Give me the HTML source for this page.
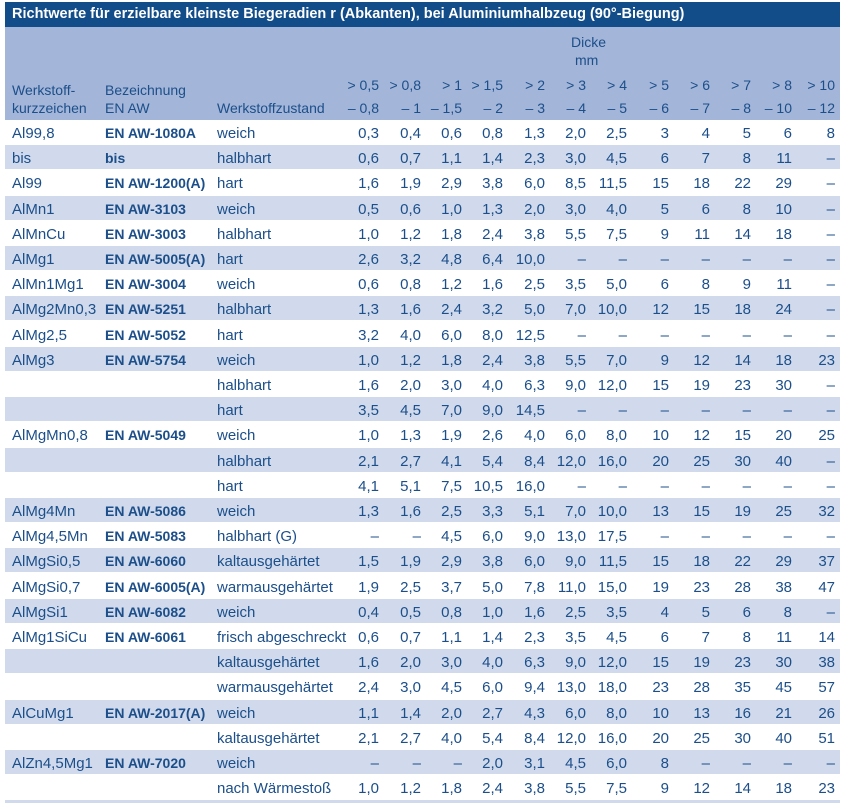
<!DOCTYPE html>
<html><head><meta charset="utf-8"><style>
body{margin:0;background:#fff;width:858px;height:809px;position:relative;overflow:hidden;font-family:"Liberation Sans",sans-serif;color:#1c4f8a;font-size:15px}
.t{position:absolute;left:5px;top:2px;width:835px;height:25px;background:#124d89;color:#fff;font-weight:bold;font-size:14.5px;line-height:25px;padding-left:7px;box-sizing:border-box;white-space:nowrap}
.h{position:absolute;left:5px;top:27px;width:835px;height:93px;background:#a3b5d8}
.a{position:absolute;white-space:nowrap;line-height:18px;font-size:14px}
.r{position:absolute;left:5px;width:835px;height:25px;line-height:27px}
.r.l{background:#d0daec;height:24px}
.r span{position:absolute;white-space:nowrap}
.c1{left:7px}.c2{left:100px;font-weight:bold;font-size:14px}.c3{left:212px}
.n{width:44px;text-align:right}
.r .n1{right:461px}.r .n2{right:419px}.r .n3{right:378px}.r .n4{right:337px}.r .n5{right:295px}.r .n6{right:254px}.r .n7{right:213px}.r .n8{right:171px}.r .n9{right:130px}.r .n10{right:89px}.r .n11{right:48px}.r .n12{right:5px}
</style></head><body>
<div class="t">Richtwerte für erzielbare kleinste Biegeradien r (Abkanten), bei Aluminiumhalbzeug (90°-Biegung)</div>
<div class="h"></div>
<div class="a" style="left:571px;top:33px">Dicke</div>
<div class="a" style="left:575px;top:51px">mm</div>
<div class="a" style="left:12px;top:81px">Werkstoff-</div>
<div class="a" style="left:12px;top:99px">kurzzeichen</div>
<div class="a" style="left:105px;top:81px">Bezeichnung</div>
<div class="a" style="left:105px;top:99px">EN AW</div>
<div class="a" style="left:217px;top:99px">Werkstoffzustand</div>
<div class="a" style="left:335px;top:76px;width:44px;text-align:right">&gt; 0,5</div><div class="a" style="left:335px;top:99px;width:44px;text-align:right">– 0,8</div>
<div class="a" style="left:377px;top:76px;width:44px;text-align:right">&gt; 0,8</div><div class="a" style="left:377px;top:99px;width:44px;text-align:right">– 1</div>
<div class="a" style="left:418px;top:76px;width:44px;text-align:right">&gt; 1</div><div class="a" style="left:418px;top:99px;width:44px;text-align:right">– 1,5</div>
<div class="a" style="left:459px;top:76px;width:44px;text-align:right">&gt; 1,5</div><div class="a" style="left:459px;top:99px;width:44px;text-align:right">– 2</div>
<div class="a" style="left:501px;top:76px;width:44px;text-align:right">&gt; 2</div><div class="a" style="left:501px;top:99px;width:44px;text-align:right">– 3</div>
<div class="a" style="left:542px;top:76px;width:44px;text-align:right">&gt; 3</div><div class="a" style="left:542px;top:99px;width:44px;text-align:right">– 4</div>
<div class="a" style="left:583px;top:76px;width:44px;text-align:right">&gt; 4</div><div class="a" style="left:583px;top:99px;width:44px;text-align:right">– 5</div>
<div class="a" style="left:625px;top:76px;width:44px;text-align:right">&gt; 5</div><div class="a" style="left:625px;top:99px;width:44px;text-align:right">– 6</div>
<div class="a" style="left:666px;top:76px;width:44px;text-align:right">&gt; 6</div><div class="a" style="left:666px;top:99px;width:44px;text-align:right">– 7</div>
<div class="a" style="left:707px;top:76px;width:44px;text-align:right">&gt; 7</div><div class="a" style="left:707px;top:99px;width:44px;text-align:right">– 8</div>
<div class="a" style="left:748px;top:76px;width:44px;text-align:right">&gt; 8</div><div class="a" style="left:748px;top:99px;width:44px;text-align:right">– 10</div>
<div class="a" style="left:791px;top:76px;width:44px;text-align:right">&gt; 10</div><div class="a" style="left:791px;top:99px;width:44px;text-align:right">– 12</div>

<div class="r" style="top:120px"><span class="c1">Al99,8</span><span class="c2">EN AW-1080A</span><span class="c3">weich</span><span class="n n1">0,3</span><span class="n n2">0,4</span><span class="n n3">0,6</span><span class="n n4">0,8</span><span class="n n5">1,3</span><span class="n n6">2,0</span><span class="n n7">2,5</span><span class="n n8">3</span><span class="n n9">4</span><span class="n n10">5</span><span class="n n11">6</span><span class="n n12">8</span></div>
<div class="r l" style="top:145px"><span class="c1">bis</span><span class="c2">bis</span><span class="c3">halbhart</span><span class="n n1">0,6</span><span class="n n2">0,7</span><span class="n n3">1,1</span><span class="n n4">1,4</span><span class="n n5">2,3</span><span class="n n6">3,0</span><span class="n n7">4,5</span><span class="n n8">6</span><span class="n n9">7</span><span class="n n10">8</span><span class="n n11">11</span><span class="n n12">–</span></div>
<div class="r" style="top:170px"><span class="c1">Al99</span><span class="c2">EN AW-1200(A)</span><span class="c3">hart</span><span class="n n1">1,6</span><span class="n n2">1,9</span><span class="n n3">2,9</span><span class="n n4">3,8</span><span class="n n5">6,0</span><span class="n n6">8,5</span><span class="n n7">11,5</span><span class="n n8">15</span><span class="n n9">18</span><span class="n n10">22</span><span class="n n11">29</span><span class="n n12">–</span></div>
<div class="r l" style="top:196px"><span class="c1">AlMn1</span><span class="c2">EN AW-3103</span><span class="c3">weich</span><span class="n n1">0,5</span><span class="n n2">0,6</span><span class="n n3">1,0</span><span class="n n4">1,3</span><span class="n n5">2,0</span><span class="n n6">3,0</span><span class="n n7">4,0</span><span class="n n8">5</span><span class="n n9">6</span><span class="n n10">8</span><span class="n n11">10</span><span class="n n12">–</span></div>
<div class="r" style="top:221px"><span class="c1">AlMnCu</span><span class="c2">EN AW-3003</span><span class="c3">halbhart</span><span class="n n1">1,0</span><span class="n n2">1,2</span><span class="n n3">1,8</span><span class="n n4">2,4</span><span class="n n5">3,8</span><span class="n n6">5,5</span><span class="n n7">7,5</span><span class="n n8">9</span><span class="n n9">11</span><span class="n n10">14</span><span class="n n11">18</span><span class="n n12">–</span></div>
<div class="r l" style="top:246px"><span class="c1">AlMg1</span><span class="c2">EN AW-5005(A)</span><span class="c3">hart</span><span class="n n1">2,6</span><span class="n n2">3,2</span><span class="n n3">4,8</span><span class="n n4">6,4</span><span class="n n5">10,0</span><span class="n n6">–</span><span class="n n7">–</span><span class="n n8">–</span><span class="n n9">–</span><span class="n n10">–</span><span class="n n11">–</span><span class="n n12">–</span></div>
<div class="r" style="top:271px"><span class="c1">AlMn1Mg1</span><span class="c2">EN AW-3004</span><span class="c3">weich</span><span class="n n1">0,6</span><span class="n n2">0,8</span><span class="n n3">1,2</span><span class="n n4">1,6</span><span class="n n5">2,5</span><span class="n n6">3,5</span><span class="n n7">5,0</span><span class="n n8">6</span><span class="n n9">8</span><span class="n n10">9</span><span class="n n11">11</span><span class="n n12">–</span></div>
<div class="r l" style="top:296px"><span class="c1">AlMg2Mn0,3</span><span class="c2">EN AW-5251</span><span class="c3">halbhart</span><span class="n n1">1,3</span><span class="n n2">1,6</span><span class="n n3">2,4</span><span class="n n4">3,2</span><span class="n n5">5,0</span><span class="n n6">7,0</span><span class="n n7">10,0</span><span class="n n8">12</span><span class="n n9">15</span><span class="n n10">18</span><span class="n n11">24</span><span class="n n12">–</span></div>
<div class="r" style="top:322px"><span class="c1">AlMg2,5</span><span class="c2">EN AW-5052</span><span class="c3">hart</span><span class="n n1">3,2</span><span class="n n2">4,0</span><span class="n n3">6,0</span><span class="n n4">8,0</span><span class="n n5">12,5</span><span class="n n6">–</span><span class="n n7">–</span><span class="n n8">–</span><span class="n n9">–</span><span class="n n10">–</span><span class="n n11">–</span><span class="n n12">–</span></div>
<div class="r l" style="top:347px"><span class="c1">AlMg3</span><span class="c2">EN AW-5754</span><span class="c3">weich</span><span class="n n1">1,0</span><span class="n n2">1,2</span><span class="n n3">1,8</span><span class="n n4">2,4</span><span class="n n5">3,8</span><span class="n n6">5,5</span><span class="n n7">7,0</span><span class="n n8">9</span><span class="n n9">12</span><span class="n n10">14</span><span class="n n11">18</span><span class="n n12">23</span></div>
<div class="r" style="top:372px"><span class="c3">halbhart</span><span class="n n1">1,6</span><span class="n n2">2,0</span><span class="n n3">3,0</span><span class="n n4">4,0</span><span class="n n5">6,3</span><span class="n n6">9,0</span><span class="n n7">12,0</span><span class="n n8">15</span><span class="n n9">19</span><span class="n n10">23</span><span class="n n11">30</span><span class="n n12">–</span></div>
<div class="r l" style="top:397px"><span class="c3">hart</span><span class="n n1">3,5</span><span class="n n2">4,5</span><span class="n n3">7,0</span><span class="n n4">9,0</span><span class="n n5">14,5</span><span class="n n6">–</span><span class="n n7">–</span><span class="n n8">–</span><span class="n n9">–</span><span class="n n10">–</span><span class="n n11">–</span><span class="n n12">–</span></div>
<div class="r" style="top:422px"><span class="c1">AlMgMn0,8</span><span class="c2">EN AW-5049</span><span class="c3">weich</span><span class="n n1">1,0</span><span class="n n2">1,3</span><span class="n n3">1,9</span><span class="n n4">2,6</span><span class="n n5">4,0</span><span class="n n6">6,0</span><span class="n n7">8,0</span><span class="n n8">10</span><span class="n n9">12</span><span class="n n10">15</span><span class="n n11">20</span><span class="n n12">25</span></div>
<div class="r l" style="top:448px"><span class="c3">halbhart</span><span class="n n1">2,1</span><span class="n n2">2,7</span><span class="n n3">4,1</span><span class="n n4">5,4</span><span class="n n5">8,4</span><span class="n n6">12,0</span><span class="n n7">16,0</span><span class="n n8">20</span><span class="n n9">25</span><span class="n n10">30</span><span class="n n11">40</span><span class="n n12">–</span></div>
<div class="r" style="top:473px"><span class="c3">hart</span><span class="n n1">4,1</span><span class="n n2">5,1</span><span class="n n3">7,5</span><span class="n n4">10,5</span><span class="n n5">16,0</span><span class="n n6">–</span><span class="n n7">–</span><span class="n n8">–</span><span class="n n9">–</span><span class="n n10">–</span><span class="n n11">–</span><span class="n n12">–</span></div>
<div class="r l" style="top:498px"><span class="c1">AlMg4Mn</span><span class="c2">EN AW-5086</span><span class="c3">weich</span><span class="n n1">1,3</span><span class="n n2">1,6</span><span class="n n3">2,5</span><span class="n n4">3,3</span><span class="n n5">5,1</span><span class="n n6">7,0</span><span class="n n7">10,0</span><span class="n n8">13</span><span class="n n9">15</span><span class="n n10">19</span><span class="n n11">25</span><span class="n n12">32</span></div>
<div class="r" style="top:523px"><span class="c1">AlMg4,5Mn</span><span class="c2">EN AW-5083</span><span class="c3">halbhart (G)</span><span class="n n1">–</span><span class="n n2">–</span><span class="n n3">4,5</span><span class="n n4">6,0</span><span class="n n5">9,0</span><span class="n n6">13,0</span><span class="n n7">17,5</span><span class="n n8">–</span><span class="n n9">–</span><span class="n n10">–</span><span class="n n11">–</span><span class="n n12">–</span></div>
<div class="r l" style="top:548px"><span class="c1">AlMgSi0,5</span><span class="c2">EN AW-6060</span><span class="c3">kaltausgehärtet</span><span class="n n1">1,5</span><span class="n n2">1,9</span><span class="n n3">2,9</span><span class="n n4">3,8</span><span class="n n5">6,0</span><span class="n n6">9,0</span><span class="n n7">11,5</span><span class="n n8">15</span><span class="n n9">18</span><span class="n n10">22</span><span class="n n11">29</span><span class="n n12">37</span></div>
<div class="r" style="top:574px"><span class="c1">AlMgSi0,7</span><span class="c2">EN AW-6005(A)</span><span class="c3">warmausgehärtet</span><span class="n n1">1,9</span><span class="n n2">2,5</span><span class="n n3">3,7</span><span class="n n4">5,0</span><span class="n n5">7,8</span><span class="n n6">11,0</span><span class="n n7">15,0</span><span class="n n8">19</span><span class="n n9">23</span><span class="n n10">28</span><span class="n n11">38</span><span class="n n12">47</span></div>
<div class="r l" style="top:599px"><span class="c1">AlMgSi1</span><span class="c2">EN AW-6082</span><span class="c3">weich</span><span class="n n1">0,4</span><span class="n n2">0,5</span><span class="n n3">0,8</span><span class="n n4">1,0</span><span class="n n5">1,6</span><span class="n n6">2,5</span><span class="n n7">3,5</span><span class="n n8">4</span><span class="n n9">5</span><span class="n n10">6</span><span class="n n11">8</span><span class="n n12">–</span></div>
<div class="r" style="top:624px"><span class="c1">AlMg1SiCu</span><span class="c2">EN AW-6061</span><span class="c3">frisch abgeschreckt</span><span class="n n1">0,6</span><span class="n n2">0,7</span><span class="n n3">1,1</span><span class="n n4">1,4</span><span class="n n5">2,3</span><span class="n n6">3,5</span><span class="n n7">4,5</span><span class="n n8">6</span><span class="n n9">7</span><span class="n n10">8</span><span class="n n11">11</span><span class="n n12">14</span></div>
<div class="r l" style="top:649px"><span class="c3">kaltausgehärtet</span><span class="n n1">1,6</span><span class="n n2">2,0</span><span class="n n3">3,0</span><span class="n n4">4,0</span><span class="n n5">6,3</span><span class="n n6">9,0</span><span class="n n7">12,0</span><span class="n n8">15</span><span class="n n9">19</span><span class="n n10">23</span><span class="n n11">30</span><span class="n n12">38</span></div>
<div class="r" style="top:674px"><span class="c3">warmausgehärtet</span><span class="n n1">2,4</span><span class="n n2">3,0</span><span class="n n3">4,5</span><span class="n n4">6,0</span><span class="n n5">9,4</span><span class="n n6">13,0</span><span class="n n7">18,0</span><span class="n n8">23</span><span class="n n9">28</span><span class="n n10">35</span><span class="n n11">45</span><span class="n n12">57</span></div>
<div class="r l" style="top:700px"><span class="c1">AlCuMg1</span><span class="c2">EN AW-2017(A)</span><span class="c3">weich</span><span class="n n1">1,1</span><span class="n n2">1,4</span><span class="n n3">2,0</span><span class="n n4">2,7</span><span class="n n5">4,3</span><span class="n n6">6,0</span><span class="n n7">8,0</span><span class="n n8">10</span><span class="n n9">13</span><span class="n n10">16</span><span class="n n11">21</span><span class="n n12">26</span></div>
<div class="r" style="top:725px"><span class="c3">kaltausgehärtet</span><span class="n n1">2,1</span><span class="n n2">2,7</span><span class="n n3">4,0</span><span class="n n4">5,4</span><span class="n n5">8,4</span><span class="n n6">12,0</span><span class="n n7">16,0</span><span class="n n8">20</span><span class="n n9">25</span><span class="n n10">30</span><span class="n n11">40</span><span class="n n12">51</span></div>
<div class="r l" style="top:750px"><span class="c1">AlZn4,5Mg1</span><span class="c2">EN AW-7020</span><span class="c3">weich</span><span class="n n1">–</span><span class="n n2">–</span><span class="n n3">–</span><span class="n n4">2,0</span><span class="n n5">3,1</span><span class="n n6">4,5</span><span class="n n7">6,0</span><span class="n n8">8</span><span class="n n9">–</span><span class="n n10">–</span><span class="n n11">–</span><span class="n n12">–</span></div>
<div class="r" style="top:775px"><span class="c3">nach Wärmestoß</span><span class="n n1">1,0</span><span class="n n2">1,2</span><span class="n n3">1,8</span><span class="n n4">2,4</span><span class="n n5">3,8</span><span class="n n6">5,5</span><span class="n n7">7,5</span><span class="n n8">9</span><span class="n n9">12</span><span class="n n10">14</span><span class="n n11">18</span><span class="n n12">23</span></div>
<div style="position:absolute;left:5px;top:800px;width:835px;height:3px;background:#d0daec"></div>
</body></html>
